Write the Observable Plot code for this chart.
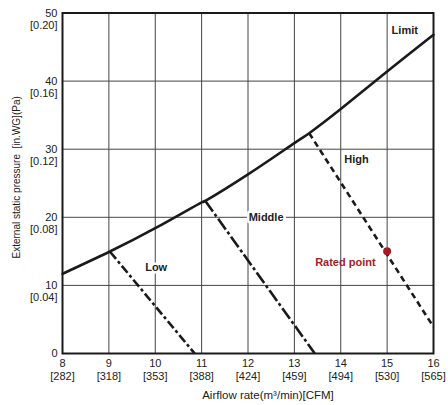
<!DOCTYPE html>
<html><head><meta charset="utf-8">
<script src="https://cdn.jsdelivr.net/npm/d3@7"></script>
<script src="https://cdn.jsdelivr.net/npm/@observablehq/plot@0.6"></script>
<style>body{margin:0;background:#fff;font-family:"Liberation Sans",Arial,sans-serif}</style>
</head><body><div id="chart"></div>
<script>
const xTicks = [8,9,10,11,12,13,14,15,16];
const xCfm = ["282","318","353","388","424","459","494","530","565"];
const yTicks = [0,10,20,30,40,50];
const yInwg = ["","0.04","0.08","0.12","0.16","0.20"];
const limitX = [8,9,10,11,11.08,12,13,13.32,14,15,16];
const limitY = [11.7,14.9,18.4,22.2,22.4,26.3,30.9,32.35,35.9,41.4,46.8];
const lowX = [9.03,10.85], lowY = [14.9,0];
const midX = [11.08,13.44], midY = [22.4,0];
const highX = [13.32,16], highY = [32.35,3.9];
const ratedX = [15], ratedY = [15];
const labelText = ["Limit","High","Middle","Low"];
const labelX = [15.38,14.34,12.39,10.02];
const labelY = [47.4,28.5,20.0,12.6];
const xTitle = "Airflow rate(m³/min)[CFM]";
const yTitle = "External static pressure  [in.WG](Pa)";

const pts = (xs, ys) => xs.map((x,i)=>({x, y: ys[i]}));
const labels = labelText.map((t,i)=>({t, x: labelX[i], y: labelY[i]}));
const yTicks2 = yTicks.filter((d,i)=>yInwg[i] !== "");

const chart = Plot.plot({
  width: 448, height: 405,
  marginLeft: 62, marginRight: 15, marginTop: 12.5, marginBottom: 52,
  style: {fontFamily: '"Liberation Sans", Arial, sans-serif', fontSize: "11px", color: "#222"},
  x: {domain: [8,16]},
  y: {domain: [0,50]},
  marks: [
    Plot.gridX(xTicks.slice(1,-1), {stroke: "#444", strokeOpacity: 1, strokeWidth: 1}),
    Plot.gridY(yTicks.slice(1,-1), {stroke: "#444", strokeOpacity: 1, strokeWidth: 1}),
    Plot.axisX(xTicks, {tickSize: 0, tickPadding: 6, fontSize: 11, fill: "#222", tickFormat: d => String(d), label: null}),
    Plot.axisX(xTicks, {tickSize: 0, tickPadding: 6, dy: 12.5, fontSize: 11, fill: "#222",
      tickFormat: d => "[" + xCfm[xTicks.indexOf(d)] + "]", label: null}),
    Plot.axisY(yTicks, {tickSize: 0, tickPadding: 5, fontSize: 11, fill: "#222", tickFormat: d => String(d), label: null}),
    Plot.axisY(yTicks2, {tickSize: 0, tickPadding: 5, dy: 12.5, fontSize: 11, fill: "#222",
      tickFormat: d => "[" + yInwg[yTicks.indexOf(d)] + "]", label: null}),
    Plot.text([xTitle], {frameAnchor: "bottom", text: d => d, dy: 37, dx: 20, fontSize: 11.5, fill: "#222", lineAnchor: "top"}),
    Plot.text([yTitle], {frameAnchor: "bottom-left", text: d => d, textAnchor: "start", dx: -43, dy: -95, rotate: -90, fontSize: 10, fill: "#222"}),
    Plot.line(pts(lowX, lowY), {x:"x", y:"y", stroke:"#1a1a1a", strokeWidth: 2.6, strokeDasharray: "9,3,3,3", strokeLinecap: "butt"}),
    Plot.line(pts(midX, midY), {x:"x", y:"y", stroke:"#1a1a1a", strokeWidth: 2.6, strokeDasharray: "13,3,3,3", strokeLinecap: "butt"}),
    Plot.line(pts(highX, highY), {x:"x", y:"y", stroke:"#1a1a1a", strokeWidth: 2.6, strokeDasharray: "6,4", strokeLinecap: "butt"}),
    Plot.line(pts(limitX, limitY), {x:"x", y:"y", stroke:"#1a1a1a", strokeWidth: 2.6, curve: "natural"}),
    Plot.text(labels, {x:"x", y:"y", text:"t", fill:"#222", fontWeight:"bold", fontSize: 11, stroke:"white", strokeWidth: 5, paintOrder: "stroke"}),
    Plot.dot(pts(ratedX, ratedY), {x:"x", y:"y", r: 4, fill:"#a51d24", stroke: "none"}),
    Plot.text(pts([14.1],[13.4]), {x:"x", y:"y", text: ()=>"Rated point", fill:"#a51d24", fontWeight:"bold", fontSize: 11}),
    Plot.frame({stroke:"#1a1a1a", strokeWidth: 2})
  ]
});
document.getElementById("chart").appendChild(chart);
</script></body></html>
